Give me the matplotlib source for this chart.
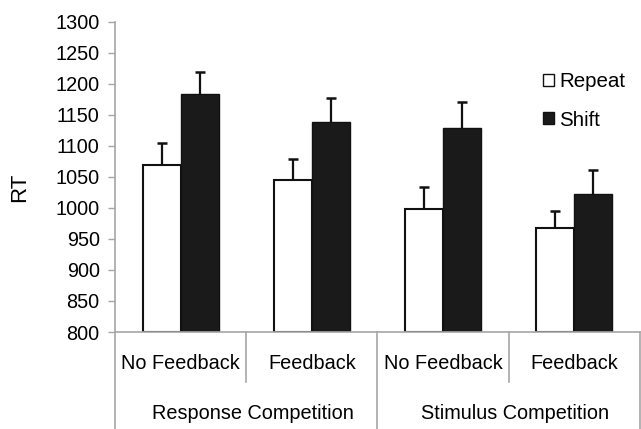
import matplotlib
matplotlib.use("Agg")
import matplotlib.pyplot as plt
import numpy as np
from matplotlib.patches import Patch
import matplotlib.transforms as mtransforms

plt.rcParams['font.family'] = ['Liberation Sans', 'DejaVu Sans']

# Mean RT per condition and upper error bar length
conditions = ["No Feedback", "Feedback", "No Feedback", "Feedback"]
groups = ["Response Competition", "Stimulus Competition"]
repeat_rt = [1069, 1045, 998, 967]
repeat_err = [35, 33, 35, 28]
shift_rt = [1183, 1138, 1129, 1023]
shift_err = [36, 39, 42, 38]
yticks = list(range(800, 1301, 50))

grey = '#a6a6a6'
fs = 14.3

fig = plt.figure(figsize=(6.41, 4.29), dpi=100)
ax = fig.add_axes([0.1794, 0.2261, 0.8186, 0.7233])

x = np.arange(len(conditions))
w = 0.29
base = 800
ax.bar(x - w / 2, np.array(repeat_rt) - base, w, bottom=base, color='white',
       edgecolor='#111111', linewidth=1.5, zorder=2)
ax.bar(x + w / 2, np.array(shift_rt) - base, w, bottom=base, color='#1a1a1a',
       edgecolor='#111111', linewidth=1.0, zorder=2)

# upper error bars only: hide the cap that sits on the bar top
for xs, ys, es in [(x - w / 2, repeat_rt, repeat_err), (x + w / 2, shift_rt, shift_err)]:
    eb = ax.errorbar(xs, ys, yerr=[np.zeros(len(es)), es], fmt='none',
                     ecolor='#111111', elinewidth=1.6, capsize=3.5, capthick=1.8, zorder=3)
    eb[1][0].set_visible(False)

ax.set_xlim(-0.5, 3.5)
ax.set_ylim(800, 1300)
ax.set_yticks(yticks)
ax.set_yticklabels([str(t) for t in yticks], fontsize=fs)
ax.tick_params(axis='y', direction='out', length=5, width=1, color=grey, pad=6)
ax.set_xticks([])

for s in ['top', 'right']:
    ax.spines[s].set_visible(False)
for s in ['left', 'bottom']:
    ax.spines[s].set_color(grey)
    ax.spines[s].set_linewidth(1.2)
    ax.spines[s].set_zorder(4)

# two-level category axis below the plot
trans = mtransforms.blended_transform_factory(ax.transData, ax.transAxes)
for xs in [-0.5, 1.5, 3.5]:
    ax.plot([xs, xs], [0, -0.33], color=grey, lw=1.2, transform=trans, clip_on=False)
for xs in [0.5, 2.5]:
    ax.plot([xs, xs], [0, -0.161], color=grey, lw=1.2, transform=trans, clip_on=False)
for xi, lab in zip(x, conditions):
    ax.text(xi, -0.100, lab, ha='center', va='center', fontsize=fs, transform=trans)
for gi, lab in enumerate(groups):
    ax.text(2 * gi + 0.55, -0.264, lab, ha='center', va='center', fontsize=fs, transform=trans)

fig.text(0.030, 1 - 187 / 429, 'RT', rotation=90, ha='center', va='center', fontsize=16)

handles = [Patch(facecolor='white', edgecolor='#111111', linewidth=1.0, label='Repeat'),
           Patch(facecolor='#1a1a1a', edgecolor='#111111', linewidth=1.0, label='Shift')]
ax.legend(handles=handles, loc='upper left', bbox_to_anchor=(543 / 641, 1 - 72 / 429),
          bbox_transform=fig.transFigure, frameon=False, fontsize=fs + 0.5,
          handlelength=0.55, handleheight=0.55, handletextpad=0.25,
          labelspacing=0.95, borderpad=0, borderaxespad=0)

fig.savefig('out.png', dpi=100)
